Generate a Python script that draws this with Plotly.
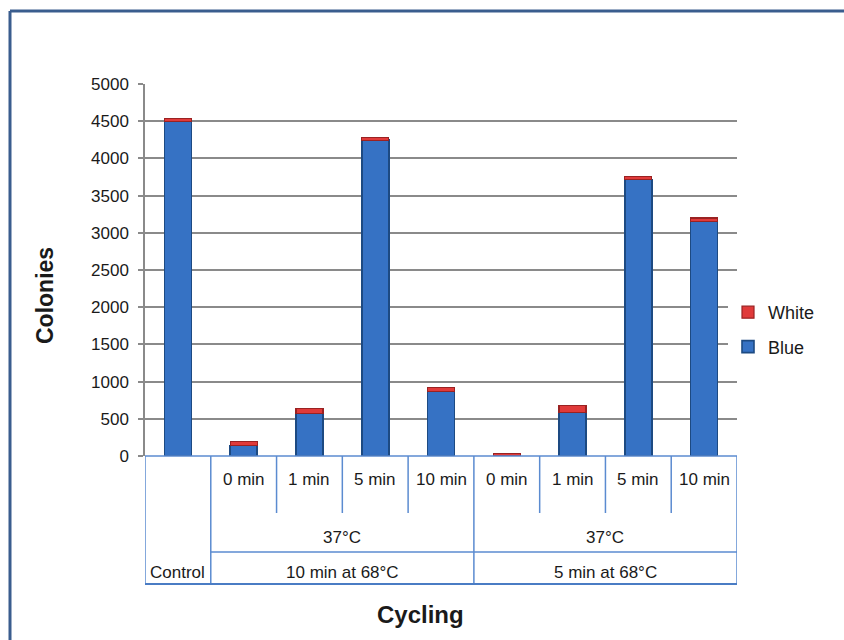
import plotly.graph_objects as go

# Colony counts per condition (stacked: blue + white)
time_labels = ["Control", "0 min", "1 min", "5 min", "10 min", "0 min", "1 min", "5 min", "10 min"]
blue_counts = [4500, 140, 570, 4245, 870, 0, 590, 3715, 3155]
white_counts = [35, 55, 70, 35, 55, 30, 85, 45, 45]
incubation_labels = ["37°C", "37°C"]
heat_labels = ["Control", "10 min at 68°C", "5 min at 68°C"]
y_ticks = [0, 500, 1000, 1500, 2000, 2500, 3000, 3500, 4000, 4500, 5000]

FONT = "Arial, Liberation Sans, sans-serif"
TABLE = "#5b8bd0"
positions = list(range(len(time_labels)))

fig = go.Figure()
fig.add_trace(go.Bar(
    x=positions, y=blue_counts, name="Blue", width=0.41,
    marker=dict(color="#3672c4", line=dict(color="#1d4a82", width=1.6)),
    legendgroup="b", legendrank=2,
))
fig.add_trace(go.Bar(
    x=positions, y=white_counts, name="White", width=0.41,
    marker=dict(color="#e03a3a", line=dict(color="#9a2222", width=1.2)),
    legendgroup="w", legendrank=1,
))

# plot area geometry in pixels (used for paper coordinates)
L, R, T, B = 145, 737, 84, 456
W, H = R - L, B - T


def py(p):
    return (B - p) / H


def px(p):
    return (p - L) / W


shapes = []
line = dict(color=TABLE, width=1.5)
# table under the axis
shapes.append(dict(type="line", xref="x", yref="paper", x0=-0.5, x1=8.5, y0=0, y1=0, line=line))
for xv in [1.5, 2.5, 3.5, 5.5, 6.5, 7.5]:
    shapes.append(dict(type="line", xref="x", yref="paper", x0=xv, x1=xv, y0=0, y1=py(513), line=line))
for xv in [-0.5, 0.5, 4.5, 8.5]:
    shapes.append(dict(type="line", xref="x", yref="paper", x0=xv, x1=xv, y0=0, y1=py(584), line=line))
shapes.append(dict(type="line", xref="x", yref="paper", x0=0.5, x1=8.53, y0=py(552), y1=py(552), line=line))
shapes.append(dict(type="line", xref="x", yref="paper", x0=-0.5, x1=8.5, y0=py(584), y1=py(584),
                   line=dict(color="#4a7cc4", width=2)))
# outer frame
frame = dict(color="#3a5d8e", width=3)
shapes.append(dict(type="line", xref="paper", yref="paper", x0=px(10), x1=px(860), y0=py(11), y1=py(11), line=frame))
shapes.append(dict(type="line", xref="paper", yref="paper", x0=px(10), x1=px(10), y0=py(11), y1=py(660), line=frame))

annotations = []
tick_font = dict(family=FONT, size=17, color="#1a1a1a")
for i, lab in enumerate(time_labels[1:], start=1):
    annotations.append(dict(x=i, y=py(479), xref="x", yref="paper", text=lab, showarrow=False,
                            font=tick_font, xanchor="center", yanchor="middle"))
for xc, lab in zip([2.5, 6.5], incubation_labels):
    annotations.append(dict(x=xc, y=py(537), xref="x", yref="paper", text=lab, showarrow=False,
                            font=tick_font, xanchor="center", yanchor="middle"))
for xc, lab in zip([0, 2.5, 6.5], heat_labels):
    annotations.append(dict(x=xc, y=py(572), xref="x", yref="paper", text=lab, showarrow=False,
                            font=tick_font, xanchor="center", yanchor="middle"))
annotations.append(dict(x=px(45), y=py(296), xref="paper", yref="paper", text="<b>Colonies</b>",
                        textangle=-90, showarrow=False, font=dict(family=FONT, size=23, color="#1a1a1a"),
                        xanchor="center", yanchor="middle"))
annotations.append(dict(x=px(420), y=py(614), xref="paper", yref="paper", text="<b>Cycling</b>",
                        showarrow=False, font=dict(family=FONT, size=24, color="#1a1a1a"),
                        xanchor="center", yanchor="middle"))

fig.update_layout(
    width=844, height=640,
    margin=dict(l=L, r=844 - R, t=T, b=640 - B),
    barmode="stack",
    paper_bgcolor="white", plot_bgcolor="white",
    showlegend=True,
    legend=dict(x=px(728), y=py(294), xanchor="left", yanchor="top",
                traceorder="grouped", tracegroupgap=8,
                font=dict(family=FONT, size=18, color="#1a1a1a"), itemwidth=30),
    shapes=shapes,
    annotations=annotations,
    xaxis=dict(range=[-0.5, 8.5], showticklabels=False, showgrid=False, zeroline=False,
               showline=False, ticks="", fixedrange=True),
    yaxis=dict(range=[0, 5000], tickvals=y_ticks, showgrid=True, gridcolor="#8a8a8a", gridwidth=1.5,
               zeroline=False, showline=True, linecolor="#8a8a8a", linewidth=1.5,
               ticks="outside", ticklen=5, tickcolor="#8a8a8a", tickwidth=1.5,
               tickfont=dict(family=FONT, size=17, color="#1a1a1a"), ticklabelstandoff=6),
    bargap=0.59,
)

fig.write_html("out.html")
